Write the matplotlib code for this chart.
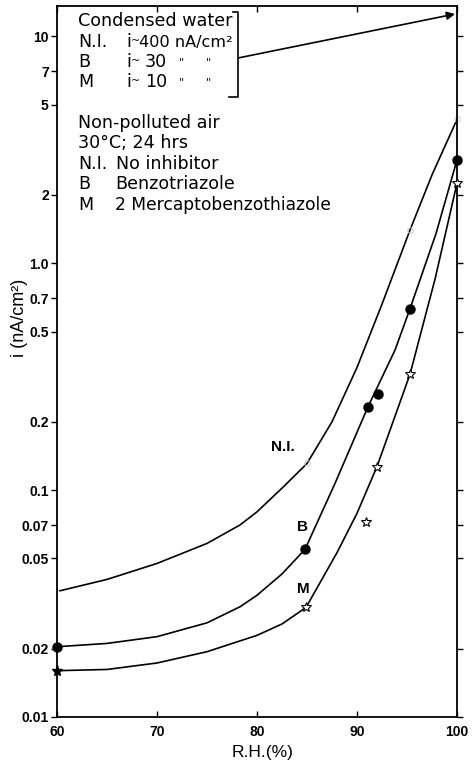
import matplotlib
matplotlib.use('Agg')
import matplotlib.pyplot as plt

plt.rcParams['font.family'] = ['Liberation Sans', 'DejaVu Sans']

# N.I. (no inhibitor) curve and its faint points
rh_ni = [60.3, 65, 70, 75, 78.3, 80, 82.5, 85, 87.5, 90, 92.5, 95.3, 97.5, 100]
i_ni = [0.036, 0.0404, 0.0475, 0.0582, 0.0702, 0.0802, 0.102, 0.131, 0.20, 0.347,
        0.66, 1.40, 2.45, 4.3]
rh_ni_pts = [85, 95.3, 100]
i_ni_pts = [0.131, 1.40, 4.3]

# B (benzotriazole)
rh_b = [60, 65, 70, 75, 78.3, 80, 82.5, 84.8, 87.8, 91.1, 93.8, 95.3, 97.9, 100]
i_b = [0.0204, 0.0211, 0.0226, 0.026, 0.0306, 0.0344, 0.0427, 0.0548, 0.107, 0.233,
       0.414, 0.63, 1.35, 2.85]
rh_b_pts = [60, 84.8, 91.1, 92.1, 95.3, 100]
i_b_pts = [0.0204, 0.0548, 0.233, 0.265, 0.63, 2.85]

# M (2 mercaptobenzothiazole)
rh_m = [60, 65, 70, 75, 80, 82.5, 84.9, 88, 90, 92, 95.3, 97.8, 100]
i_m = [0.016, 0.0162, 0.0173, 0.0194, 0.0229, 0.0257, 0.0304, 0.053, 0.079, 0.127,
       0.324, 0.85, 2.25]
rh_m_pts = [84.9, 90.9, 92.0, 95.3, 100]
i_m_pts = [0.0304, 0.0725, 0.127, 0.324, 2.25]
rh_m_first = [60]
i_m_first = [0.016]

yticks = [0.01, 0.02, 0.05, 0.07, 0.1, 0.2, 0.5, 0.7, 1, 2, 5, 7, 10]
ylabels = ['0.01', '0.02', '0.05', '0.07', '0.1', '0.2', '0.5', '0.7', '1.0',
           '2', '5', '7', '10']
xticks = [60, 70, 80, 90, 100]

W, H = 473, 765
fig = plt.figure(figsize=(W / 100, H / 100), dpi=100)
ax = fig.add_axes([57 / W, 1 - 717 / H, 400 / W, 711 / H])

ax.plot(rh_ni, i_ni, color='black', lw=1.2)
ax.plot(rh_b, i_b, color='black', lw=1.2)
ax.plot(rh_m, i_m, color='black', lw=1.2)

ax.plot(rh_ni_pts, i_ni_pts, 'o', ms=4, mfc='none', mec='#c8c8c8', mew=0.7, clip_on=False)
ax.plot(rh_b_pts, i_b_pts, 'o', ms=6.5, color='black', clip_on=False, zorder=5)
ax.plot(rh_m_pts, i_m_pts, '*', ms=7, mfc='white', mec='black', mew=0.8, clip_on=False, zorder=5)
ax.plot(rh_m_first, i_m_first, '*', ms=8, color='black', clip_on=False, zorder=5)

ax.set_yscale('log')
ax.set_xlim(60, 100)
ax.set_ylim(0.01, 13.6)
ax.set_yticks(yticks)
ax.set_yticklabels(ylabels)
ax.minorticks_off()
ax.set_xticks(xticks)
ax.tick_params(axis='y', which='major', direction='out', length=4, width=1,
               labelsize=10, pad=2)
ax.tick_params(axis='y', right=True, labelright=False)
ax.tick_params(axis='x', direction='in', length=4, width=1, labelsize=10, pad=6, top=True)
for lab in ax.get_xticklabels() + ax.get_yticklabels():
    lab.set_fontweight('bold')
for s in ax.spines.values():
    s.set_linewidth(1.3)

# curve labels
ax.text(82.6, 0.155, 'N.I.', fontsize=11, fontweight='bold', ha='center', va='center')
ax.text(84.6, 0.069, 'B', fontsize=11, fontweight='bold', ha='center', va='center')
ax.text(84.6, 0.0365, 'M', fontsize=11, fontweight='bold', ha='center', va='center')

# condensed water box
def ftxt(x, y, s, size=12.6):
    fig.text(x / W, 1 - y / H, s, fontsize=size, va='center', ha='left',
             family='DejaVu Sans')

ftxt(78, 21, 'Condensed water')
ftxt(78, 42, 'N.I.')
ftxt(126, 42, 'i')
ftxt(131, 41, '~', size=8)
ftxt(139, 42, '400 nA/cm²', size=11.6)
ftxt(78, 62, 'B')
ftxt(126, 62, 'i')
ftxt(131, 61, '~', size=8)
ftxt(145, 62, '30')
ftxt(78, 82, 'M')
ftxt(126, 82, 'i')
ftxt(131, 81, '~', size=8)
ftxt(145, 82, '10')
for yy in (62, 82):
    ftxt(179, yy, '"', size=8)
    ftxt(206, yy, '"', size=8)

ftxt(78, 123, 'Non-polluted air')
ftxt(78, 143, '30°C; 24 hrs')
ftxt(78, 164, 'N.I.')
ftxt(116, 164, 'No inhibitor')
ftxt(78, 184, 'B')
ftxt(115, 184, 'Benzotriazole')
ftxt(78, 205, 'M')
ftxt(115, 205, '2 Mercaptobenzothiazole', size=12.3)

# bracket and arrow
bx = [233 / W, 238 / W, 238 / W, 229 / W]
by = [1 - 12 / H, 1 - 12 / H, 1 - 97 / H, 1 - 97 / H]
fig.add_artist(plt.Line2D(bx, by, color='black', lw=1.2))
ax.annotate('', xy=(455 / W, 1 - 14 / H), xytext=(238 / W, 1 - 58 / H),
            xycoords='figure fraction', textcoords='figure fraction',
            arrowprops=dict(arrowstyle='-|>', color='black', lw=1.2,
                            mutation_scale=12, shrinkA=0, shrinkB=0))

fig.text(19 / W, 1 - 318 / H, 'i (nA/cm²)', rotation=90, fontsize=13,
         ha='center', va='center')
fig.text(263 / W, 1 - 753 / H, 'R.H.(%)', fontsize=12.5, ha='center', va='center')

plt.savefig('out.png', dpi=100)
